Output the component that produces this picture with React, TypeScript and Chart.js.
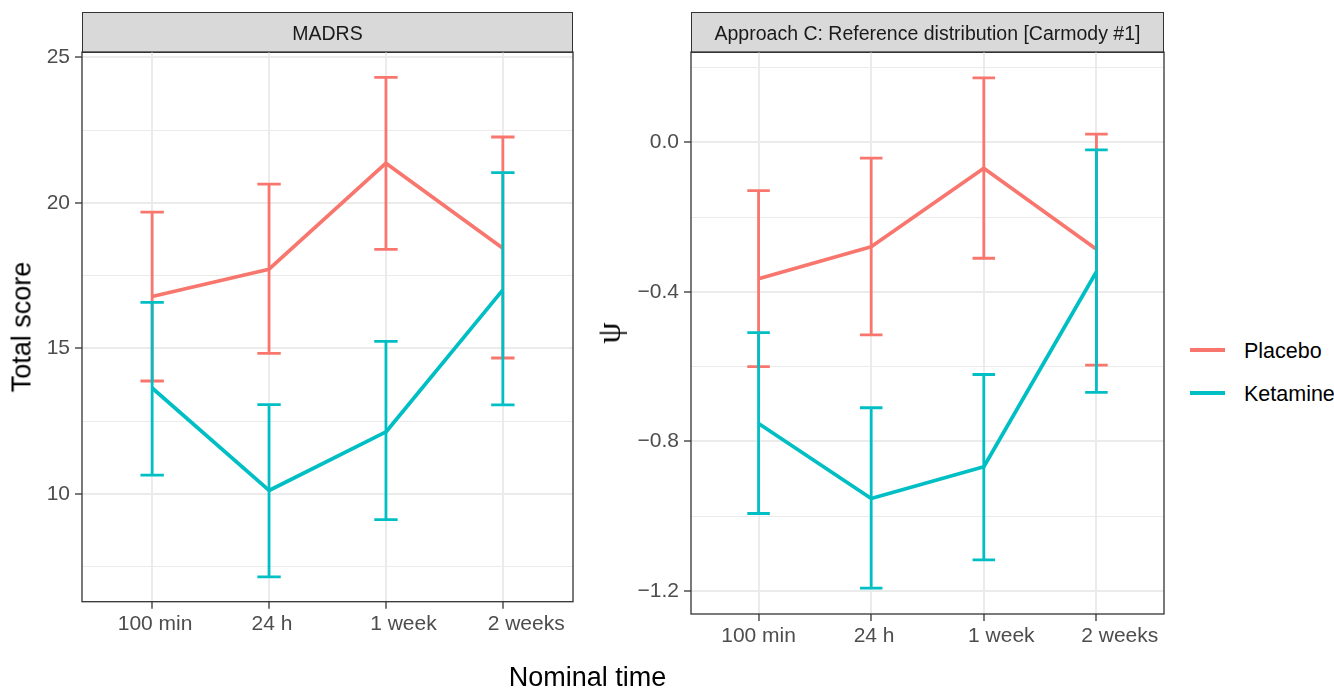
import React, { useEffect, useRef } from "react";
import { Chart, registerables } from "chart.js";

Chart.register(...registerables);

// ---------- data ----------
const categories = ["100 min", "24 h", "1 week", "2 weeks"];

const madrsPlaceboMean = [16.78, 17.72, 21.36, 18.44];
const madrsPlaceboLower = [13.88, 14.83, 18.4, 14.67];
const madrsPlaceboUpper = [19.68, 20.64, 24.31, 22.26];
const madrsKetamineMean = [13.64, 10.12, 12.13, 17.01];
const madrsKetamineLower = [10.65, 7.15, 9.12, 13.06];
const madrsKetamineUpper = [16.58, 13.07, 15.24, 21.04];

const psiPlaceboMean = [-0.365, -0.279, -0.069, -0.286];
const psiPlaceboLower = [-0.6, -0.515, -0.31, -0.596];
const psiPlaceboUpper = [-0.129, -0.042, 0.173, 0.022];
const psiKetamineMean = [-0.752, -0.953, -0.868, -0.346];
const psiKetamineLower = [-0.993, -1.193, -1.117, -0.669];
const psiKetamineUpper = [-0.509, -0.71, -0.621, -0.02];

const madrsMajorTicks = [10, 15, 20, 25];
const madrsMinorTicks = [7.5, 12.5, 17.5, 22.5];
const madrsTickLabels = ["10", "15", "20", "25"];
const madrsRange = [6.3, 25.18];

const psiMajorTicks = [-1.2, -0.8, -0.4, 0.0];
const psiMinorTicks = [-1.0, -0.6, -0.2, 0.2];
const psiTickLabels = ["\u22121.2", "\u22120.8", "\u22120.4", "0.0"];
const psiRange = [-1.262, 0.242];

const seriesNames = ["Placebo", "Ketamine"];

// ---------- styles ----------
const PLACEBO = "#F8766D";
const KETAMINE = "#00BFC4";
const SANS = "'Liberation Sans', Arial, Helvetica, sans-serif";
const CAP = 0.1;
// leading-space nudges for the x tick labels (style only, as in the reference)
const leftLabelNudge = [1, 1, 6, 8];
const rightLabelNudge = [0, 1, 6, 8];

function errorBarPoints(lower: number[], upper: number[]) {
  const pts: { x: number; y: number | null }[] = [];
  lower.forEach((lo, i) => {
    const x = i + 1;
    const hi = upper[i];
    pts.push(
      { x: x - CAP, y: hi },
      { x: x + CAP, y: hi },
      { x, y: hi },
      { x, y: lo },
      { x: x - CAP, y: lo },
      { x: x + CAP, y: lo },
      { x, y: null }
    );
  });
  return pts;
}

function linePoints(means: number[]) {
  return means.map((m, i) => ({ x: i + 1, y: m }));
}

const panelBorder = {
  id: "panelBorder",
  afterDraw(chart: any) {
    const { ctx, chartArea: a } = chart;
    ctx.save();
    ctx.strokeStyle = "#333333";
    ctx.lineWidth = 1.3;
    ctx.strokeRect(a.left, a.top, a.right - a.left, a.bottom - a.top);
    ctx.restore();
  },
};

function makeConfig(p: {
  range: number[];
  major: number[];
  minor: number[];
  labels: string[];
  pMean: number[];
  pLo: number[];
  pHi: number[];
  kMean: number[];
  kLo: number[];
  kHi: number[];
  yAxisWidth: number;
  xAxisHeight: number;
  padRight: number;
  nudge: number[];
}) {
  const isMajor = (v: number) => p.major.some((m) => Math.abs(m - v) < 1e-9);
  const allTicks = [...p.major, ...p.minor].sort((a, b) => a - b);
  return {
    type: "line" as const,
    data: {
      datasets: [
        {
          label: seriesNames[0],
          data: linePoints(p.pMean),
          borderColor: PLACEBO,
          borderWidth: 3.7,
          pointRadius: 0,
          borderJoinStyle: "round",
          borderCapStyle: "butt",
          order: 4,
        },
        {
          label: seriesNames[0] + " CI",
          data: errorBarPoints(p.pLo, p.pHi),
          borderColor: PLACEBO,
          borderWidth: 2.8,
          pointRadius: 0,
          borderJoinStyle: "bevel",
          borderCapStyle: "butt",
          spanGaps: false,
          order: 3,
        },
        {
          label: seriesNames[1],
          data: linePoints(p.kMean),
          borderColor: KETAMINE,
          borderWidth: 3.7,
          pointRadius: 0,
          borderJoinStyle: "round",
          borderCapStyle: "butt",
          order: 2,
        },
        {
          label: seriesNames[1] + " CI",
          data: errorBarPoints(p.kLo, p.kHi),
          borderColor: KETAMINE,
          borderWidth: 2.8,
          pointRadius: 0,
          borderJoinStyle: "bevel",
          borderCapStyle: "butt",
          spanGaps: false,
          order: 1,
        },
      ],
    },
    options: {
      responsive: false,
      maintainAspectRatio: false,
      animation: false,
      events: [],
      layout: { padding: { left: 0, top: 52, right: p.padRight, bottom: 0 } },
      plugins: { legend: { display: false }, tooltip: { enabled: false } },
      elements: { line: { tension: 0 } },
      scales: {
        x: {
          type: "linear",
          min: 0.4,
          max: 4.6,
          bounds: "data",
          afterBuildTicks: (scale: any) => {
            scale.ticks = categories.map((_, i) => ({ value: i + 1 }));
          },
          afterFit: (scale: any) => {
            scale.height = p.xAxisHeight;
          },
          border: { display: false },
          grid: {
            color: "#EBEBEB",
            lineWidth: 2,
            tickColor: "#333333",
            tickLength: 7,
            tickWidth: 1.3,
          },
          ticks: {
            autoSkip: false,
            maxRotation: 0,
            padding: 3,
            color: "#4D4D4D",
            font: { family: SANS, size: 21 },
            callback: (v: number) => {
              const i = Math.round(v) - 1;
              const lab = categories[i];
              if (lab === undefined) return "";
              return " ".repeat(p.nudge[i] || 0) + lab;
            },
          },
        },
        y: {
          type: "linear",
          min: p.range[0],
          max: p.range[1],
          bounds: "data",
          afterBuildTicks: (scale: any) => {
            scale.ticks = allTicks.map((v) => ({ value: v }));
          },
          afterFit: (scale: any) => {
            scale.width = p.yAxisWidth;
          },
          border: { display: false },
          grid: {
            color: "#EBEBEB",
            lineWidth: (ctx: any) => (ctx.tick && isMajor(ctx.tick.value) ? 2 : 1),
            tickColor: (ctx: any) =>
              ctx.tick && isMajor(ctx.tick.value) ? "#333333" : "rgba(0,0,0,0)",
            tickLength: 7,
            tickWidth: 1.3,
          },
          ticks: {
            autoSkip: false,
            padding: 5,
            color: "#4D4D4D",
            font: { family: SANS, size: 21 },
            callback: (v: number) => {
              const idx = p.major.findIndex((m) => Math.abs(m - v) < 1e-9);
              return idx >= 0 ? p.labels[idx] : "";
            },
          },
        },
      },
    },
    plugins: [panelBorder],
  };
}

const abs = (o: React.CSSProperties): React.CSSProperties => ({ position: "absolute", ...o });

export default function App() {
  const leftRef = useRef<HTMLCanvasElement | null>(null);
  const rightRef = useRef<HTMLCanvasElement | null>(null);

  useEffect(() => {
    const c1 = new Chart(
      leftRef.current as HTMLCanvasElement,
      makeConfig({
        range: madrsRange,
        major: madrsMajorTicks,
        minor: madrsMinorTicks,
        labels: madrsTickLabels,
        pMean: madrsPlaceboMean,
        pLo: madrsPlaceboLower,
        pHi: madrsPlaceboUpper,
        kMean: madrsKetamineMean,
        kLo: madrsKetamineLower,
        kHi: madrsKetamineUpper,
        yAxisWidth: 82,
        xAxisHeight: 87.3,
        padRight: 27,
        nudge: leftLabelNudge,
      }) as any
    );
    const c2 = new Chart(
      rightRef.current as HTMLCanvasElement,
      makeConfig({
        range: psiRange,
        major: psiMajorTicks,
        minor: psiMinorTicks,
        labels: psiTickLabels,
        pMean: psiPlaceboMean,
        pLo: psiPlaceboLower,
        pHi: psiPlaceboUpper,
        kMean: psiKetamineMean,
        kLo: psiKetamineLower,
        kHi: psiKetamineUpper,
        yAxisWidth: 71,
        xAxisHeight: 75,
        padRight: 16,
        nudge: rightLabelNudge,
      }) as any
    );
    return () => {
      c1.destroy();
      c2.destroy();
    };
  }, []);

  const stripBox = (left: number, width: number): React.CSSProperties =>
    abs({
      left,
      top: 12,
      width,
      height: 41,
      background: "#D9D9D9",
      border: "1px solid #333333",
      boxSizing: "border-box",
    });
  const stripText = (left: number, width: number): React.CSSProperties =>
    abs({
      left,
      top: 24.2,
      width,
      textAlign: "center",
      fontFamily: SANS,
      fontSize: 19.5,
      lineHeight: "19.5px",
      color: "#1A1A1A",
      whiteSpace: "nowrap",
    });

  return (
    <div
      style={{
        position: "fixed",
        left: 0,
        top: 0,
        width: 1334,
        height: 689,
        background: "#FFFFFF",
        overflow: "hidden",
      }}
    >
      <div style={stripBox(82, 491)} />
      <div style={stripBox(691, 473)} />
      <canvas
        ref={leftRef}
        width={600}
        height={689}
        style={abs({ left: 0, top: 0, width: 600, height: 689, display: "block" })}
      />
      <canvas
        ref={rightRef}
        width={560}
        height={689}
        style={abs({ left: 620, top: 0, width: 560, height: 689, display: "block" })}
      />
      <div style={stripText(82, 491)}>MADRS</div>
      <div style={stripText(691, 473)}>Approach C: Reference distribution [Carmody #1]</div>

      <div
        style={abs({
          left: 22,
          top: 327,
          transform: "translate(-50%, -50%) rotate(-90deg)",
          fontFamily: SANS,
          fontSize: 27,
          lineHeight: "27px",
          color: "#000000",
          whiteSpace: "nowrap",
        })}
      >
        Total score
      </div>
      <div
        style={abs({
          left: 609,
          top: 332.5,
          transform: "translate(-50%, -50%) rotate(-90deg)",
          fontFamily: "'Liberation Serif', 'DejaVu Serif', serif",
          fontSize: 34,
          lineHeight: "34px",
          color: "#000000",
        })}
      >
        ψ
      </div>
      <div
        style={abs({
          left: 587.5,
          top: 663.8,
          transform: "translateX(-50%)",
          fontFamily: SANS,
          fontSize: 27,
          lineHeight: "27px",
          color: "#000000",
          whiteSpace: "nowrap",
        })}
      >
        Nominal time
      </div>

      <div style={abs({ left: 1190, top: 348, width: 35, height: 4, background: PLACEBO })} />
      <div style={abs({ left: 1190, top: 390.7, width: 35, height: 4, background: KETAMINE })} />
      <div
        style={abs({
          left: 1244,
          top: 341.1,
          fontFamily: SANS,
          fontSize: 21.5,
          lineHeight: "21.5px",
          color: "#000000",
          whiteSpace: "nowrap",
        })}
      >
        {seriesNames[0]}
      </div>
      <div
        style={abs({
          left: 1244,
          top: 383.5,
          fontFamily: SANS,
          fontSize: 21.5,
          lineHeight: "21.5px",
          color: "#000000",
          whiteSpace: "nowrap",
        })}
      >
        {seriesNames[1]}
      </div>
    </div>
  );
}
